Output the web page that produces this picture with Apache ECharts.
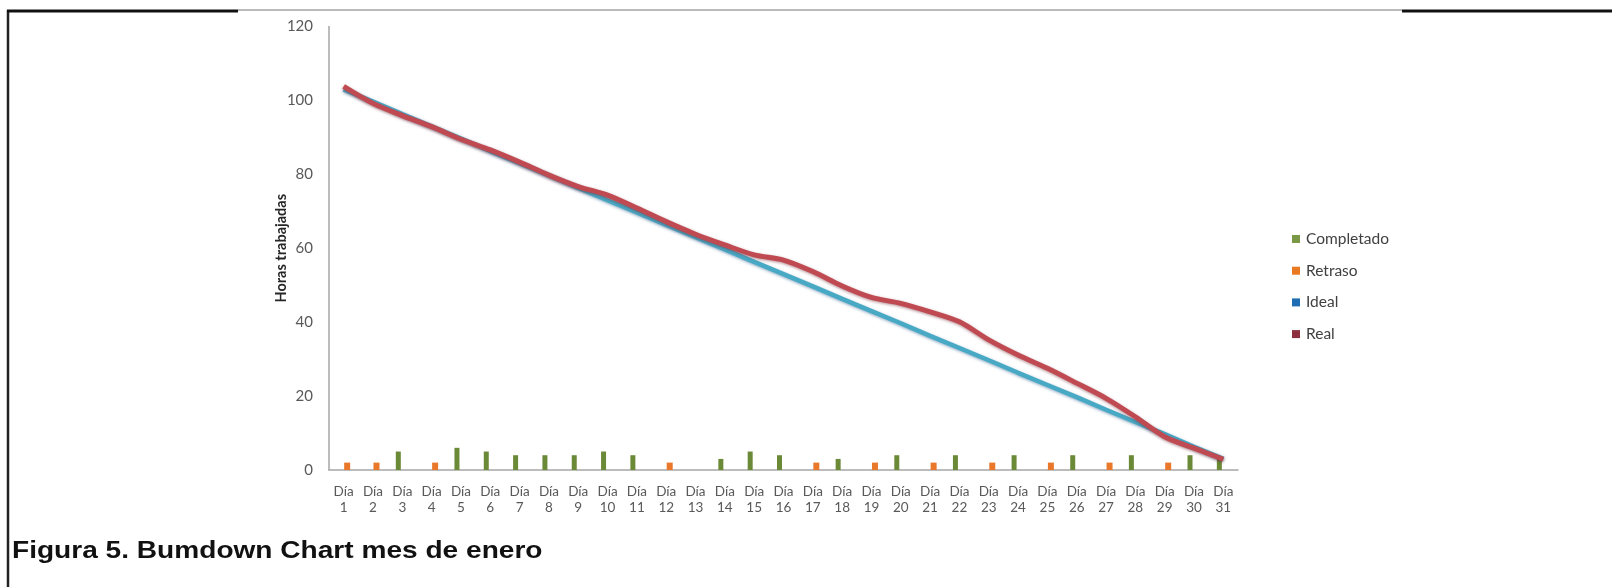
<!DOCTYPE html>
<html>
<head>
<meta charset="utf-8">
<script src="https://cdn.jsdelivr.net/npm/echarts@6/dist/echarts.min.js"></script>
<style>
  html, body { margin: 0; padding: 0; background: #ffffff; }
  #chart { width: 1612px; height: 587px; }
</style>
</head>
<body>
<div id="chart"></div>
<script>
// Burndown for January: daily completed / delayed hours and remaining hours
const categories = [
  'Día 1','Día 2','Día 3','Día 4','Día 5','Día 6','Día 7','Día 8','Día 9','Día 10',
  'Día 11','Día 12','Día 13','Día 14','Día 15','Día 16','Día 17','Día 18','Día 19','Día 20',
  'Día 21','Día 22','Día 23','Día 24','Día 25','Día 26','Día 27','Día 28','Día 29','Día 30','Día 31'
];
const completado = [null, null, 5, null, 6, 5, 4, 4, 4, 5, 4, null, null, 3, 5, 4, null, 3, null, 4, null, 4, null, 4, null, 4, null, 4, null, 4, 3];
const retraso = [2, 2, null, 2, null, null, null, null, null, null, null, 2, null, null, null, null, 2, null, 2, null, 2, null, 2, null, 2, null, 2, null, 2, null, null];
const ideal = [103, 99.7, 96.3, 93, 89.7, 86.3, 83, 79.7, 76.3, 73, 69.7, 66.3, 63, 59.7, 56.3, 53, 49.7, 46.3, 43, 39.7, 36.3, 33, 29.7, 26.3, 23, 19.7, 16.3, 13, 9.7, 6.3, 3];
const real = [103.8, 99.2, 95.9, 92.9, 89.5, 86.6, 83.3, 79.8, 76.7, 74.4, 70.9, 67.2, 63.8, 60.9, 58.2, 56.8, 53.7, 49.8, 46.7, 45.1, 42.8, 40.1, 35.2, 31.1, 27.5, 23.5, 19.4, 14.4, 9.0, 5.9, 2.9];
const yTicks = [0, 20, 40, 60, 80, 100, 120];

const FONT = 'Lato, "Open Sans", sans-serif';
const chart = echarts.init(document.getElementById('chart'), null, { renderer: 'canvas' });

chart.setOption({
  animation: false,
  backgroundColor: '#ffffff',
  grid: { left: 329, right: 374, top: 26.5, bottom: 117 },
  legend: {
    orient: 'vertical',
    left: 1287,
    top: 226,
    itemWidth: 8,
    itemHeight: 8,
    itemGap: 15.7,
    icon: 'rect',
    textStyle: { fontFamily: FONT, fontSize: 15.5, color: '#404040', lineHeight: 15, padding: [0, 0, 0, 1] },
    data: [
      { name: 'Completado', itemStyle: { color: '#7a9846' } },
      { name: 'Retraso', itemStyle: { color: '#ea7a22' } },
      { name: 'Ideal', itemStyle: { color: '#1f6db3' } },
      { name: 'Real', itemStyle: { color: '#8c2f3f' } }
    ]
  },
  xAxis: {
    type: 'category',
    data: categories,
    axisLine: { lineStyle: { color: '#a6a6a6', width: 1.5 } },
    axisTick: { show: false },
    axisLabel: {
      interval: 0,
      margin: 14,
      fontFamily: FONT,
      fontSize: 13.5,
      lineHeight: 16,
      color: '#595959',
      formatter: v => v.replace(' ', '\n')
    }
  },
  yAxis: {
    type: 'value',
    min: yTicks[0],
    max: yTicks[yTicks.length - 1],
    interval: yTicks[1] - yTicks[0],
    name: 'Horas trabajadas',
    nameLocation: 'middle',
    nameGap: 40,
    nameMoveOverlap: false,
    nameTextStyle: { fontFamily: FONT, fontSize: 14.5, fontWeight: 'bold', color: '#262626' },
    axisLine: { show: true, lineStyle: { color: '#a6a6a6', width: 1.5 } },
    axisTick: { show: false },
    splitLine: { show: false },
    axisLabel: { fontFamily: FONT, fontSize: 15, color: '#595959', margin: 16 }
  },
  series: [
    {
      name: 'Completado',
      type: 'bar',
      data: completado,
      barWidth: 5,
      barGap: '40%',
      itemStyle: { color: '#6b8a37' }
    },
    {
      name: 'Retraso',
      type: 'bar',
      data: retraso,
      barWidth: 6,
      itemStyle: { color: '#e9782a' }
    },
    {
      name: 'Ideal',
      type: 'line',
      data: ideal,
      symbol: 'none',
      lineStyle: {
        color: '#48a9c5',
        width: 4.5,
        shadowColor: 'rgba(31,90,140,0.5)',
        shadowBlur: 3,
        shadowOffsetY: 1
      },
      itemStyle: { color: '#48a9c5' }
    },
    {
      name: 'Real',
      type: 'line',
      data: real,
      smooth: 0.3,
      symbol: 'none',
      lineStyle: {
        color: '#bf4a52',
        width: 5,
        shadowColor: 'rgba(110,30,40,0.5)',
        shadowBlur: 3,
        shadowOffsetY: 1
      },
      itemStyle: { color: '#bf4a52' }
    }
  ],
  graphic: [
    // page frame around the figure
    { type: 'line', shape: { x1: 8, y1: 10, x2: 8, y2: 587 }, style: { stroke: '#222', lineWidth: 2.5 }, silent: true },
    { type: 'line', shape: { x1: 7, y1: 11, x2: 238, y2: 11 }, style: { stroke: '#111', lineWidth: 3 }, silent: true },
    { type: 'line', shape: { x1: 238, y1: 10, x2: 1402, y2: 10 }, style: { stroke: '#777', lineWidth: 1 }, silent: true },
    { type: 'line', shape: { x1: 1402, y1: 11, x2: 1612, y2: 11 }, style: { stroke: '#111', lineWidth: 3 }, silent: true },
    {
      type: 'text',
      x: 12,
      y: 539,
      scaleX: 1.17,
      style: {
        text: 'Figura 5. Bumdown Chart mes de enero',
        font: 'bold 24px "Liberation Sans", Arial, sans-serif',
        fill: '#111',
        verticalAlign: 'top'
      },
      silent: true
    }
  ]
});
</script>
</body>
</html>
